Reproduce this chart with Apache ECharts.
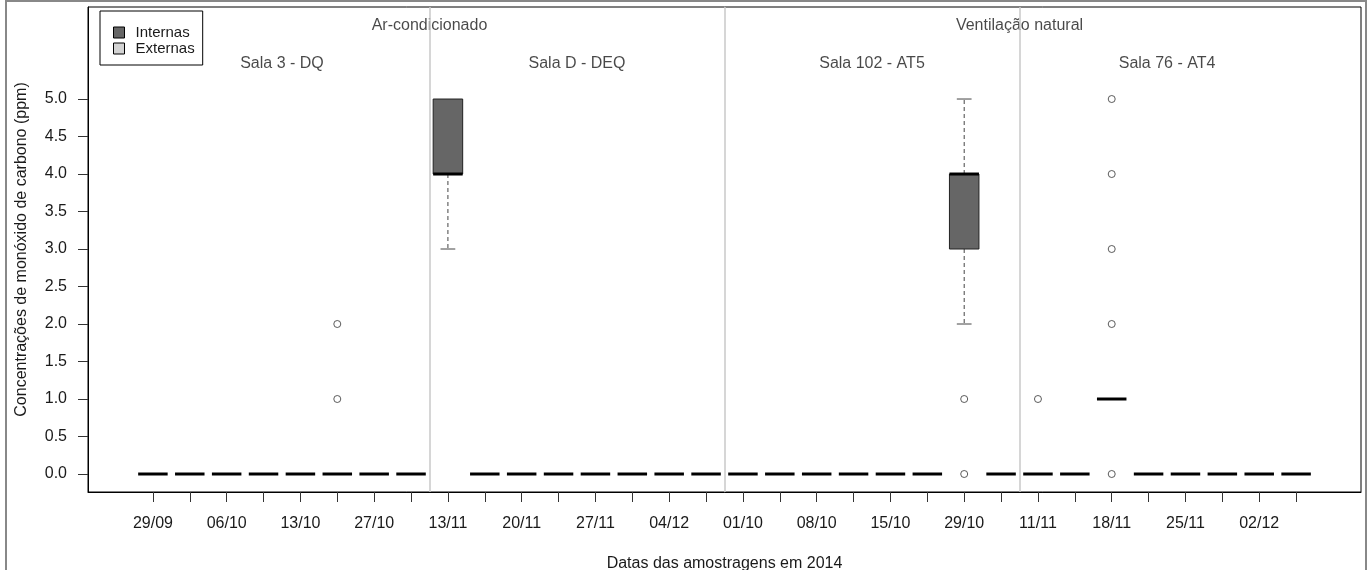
<!DOCTYPE html>
<html>
<head>
<meta charset="utf-8">
<style>
    html, body { margin: 0; padding: 0; background: #fff; }
    #box-chart { width: 1368px; height: 570px; }
</style>
<script src="https://cdn.jsdelivr.net/npm/echarts@6/dist/echarts.min.js"></script>
</head>
<body>
<div id="box-chart"></div>
<script>
    // datas de amostragem (uma caixa interna + uma externa por data)
    var dateLabels = ['29/09', '06/10', '13/10', '27/10', '13/11', '20/11', '27/11', '04/12',
                      '01/10', '08/10', '15/10', '29/10', '11/11', '18/11', '25/11', '02/12'];
    var roomNames = ['Sala 3 - DQ', 'Sala D - DEQ', 'Sala 102 - AT5', 'Sala 76 - AT4'];
    var systemNames = ['Ar-condicionado', 'Ventilação natural'];
    var yTickValues = [0, 0.5, 1, 1.5, 2, 2.5, 3, 3.5, 4, 4.5, 5];

    // [bigode inf, Q1, mediana, Q3, bigode sup]
    var internasStats = [
        [0, 0, 0, 0, 0], [0, 0, 0, 0, 0], [0, 0, 0, 0, 0], [0, 0, 0, 0, 0],
        [3, 4, 4, 5, 5], [0, 0, 0, 0, 0], [0, 0, 0, 0, 0], [0, 0, 0, 0, 0],
        [0, 0, 0, 0, 0], [0, 0, 0, 0, 0], [0, 0, 0, 0, 0], [2, 3, 4, 4, 5],
        [0, 0, 0, 0, 0], [1, 1, 1, 1, 1], [0, 0, 0, 0, 0], [0, 0, 0, 0, 0]
    ];
    var externasStats = [
        [0, 0, 0, 0, 0], [0, 0, 0, 0, 0], [0, 0, 0, 0, 0], [0, 0, 0, 0, 0],
        [0, 0, 0, 0, 0], [0, 0, 0, 0, 0], [0, 0, 0, 0, 0], [0, 0, 0, 0, 0],
        [0, 0, 0, 0, 0], [0, 0, 0, 0, 0], [0, 0, 0, 0, 0], [0, 0, 0, 0, 0],
        [0, 0, 0, 0, 0], [0, 0, 0, 0, 0], [0, 0, 0, 0, 0], [0, 0, 0, 0, 0]
    ];
    // outliers: [indice da data, valor]
    var internasOutliers = [[11, 1], [11, 0], [12, 1], [13, 0], [13, 2], [13, 3], [13, 4], [13, 5]];
    var externasOutliers = [[2, 1], [2, 2]];

    var fontName = "'Liberation Sans', Arial, sans-serif";
    var textColor = '#1a1a1a';

    // posicao no eixo x: internas em 2k+1, externas em 2k+2
    function boxData(stats, offset) {
        return stats.map(function (s, k) { return [2 * k + offset].concat(s); });
    }
    function outlierData(list, offset) {
        return list.map(function (o) { return [2 * o[0] + offset, o[1]]; });
    }

    function makeRender(fill) {
        return function (params, api) {
            var x = api.value(0);
            var lo = api.value(1), q1 = api.value(2), med = api.value(3), q3 = api.value(4), hi = api.value(5);
            var xl = api.coord([x - 0.4, 0])[0];
            var xr = api.coord([x + 0.4, 0])[0];
            var xc = api.coord([x, 0])[0];
            var capL = api.coord([x - 0.2, 0])[0];
            var capR = api.coord([x + 0.2, 0])[0];
            var y = function (v) { return api.coord([x, v])[1]; };
            var children = [];
            var whisker = { stroke: '#444', lineWidth: 1, lineDash: [4, 3] };
            var cap = { stroke: '#444', lineWidth: 1 };
            if (lo < q1) {
                children.push({ type: 'line', shape: { x1: xc, y1: y(q1), x2: xc, y2: y(lo) }, style: whisker });
                children.push({ type: 'line', shape: { x1: capL, y1: y(lo), x2: capR, y2: y(lo) }, style: cap });
            }
            if (hi > q3) {
                children.push({ type: 'line', shape: { x1: xc, y1: y(q3), x2: xc, y2: y(hi) }, style: whisker });
                children.push({ type: 'line', shape: { x1: capL, y1: y(hi), x2: capR, y2: y(hi) }, style: cap });
            }
            if (q3 > q1) {
                children.push({
                    type: 'rect',
                    shape: { x: xl, y: y(q3), width: xr - xl, height: y(q1) - y(q3) },
                    style: { fill: fill, stroke: '#222', lineWidth: 1 }
                });
            }
            children.push({
                type: 'line',
                shape: { x1: xl, y1: y(med), x2: xr, y2: y(med) },
                style: { stroke: '#000', lineWidth: 3, lineCap: 'butt' }
            });
            return { type: 'group', children: children };
        };
    }

    var xTicks = [];
    for (var i = 1; i <= dateLabels.length * 2; i++) xTicks.push(i);
    var xLabelTicks = xTicks.filter(function (v) { return v % 2 === 1; });

    // rotulos das salas e dos sistemas, no centro de cada grupo
    var notes = [];
    roomNames.forEach(function (n, g) { notes.push({ name: n, value: [8 * g + 4.5, 5.5] }); });
    systemNames.forEach(function (n, h) { notes.push({ name: n, value: [16 * h + 8.5, 6.0] }); });

    var myChart = echarts.init(document.getElementById('box-chart'));
    myChart.setOption({
        animation: false,
        textStyle: { fontFamily: fontName },
        graphic: [{
            type: 'rect',
            shape: { x: 6, y: 1, width: 1360, height: 600 },
            style: { fill: 'none', stroke: '#888', lineWidth: 2 },
            silent: true
        }],
        legend: {
            data: [
                { name: 'Internas', itemStyle: { color: '#666', borderColor: '#000', borderWidth: 1 } },
                { name: 'Externas', itemStyle: { color: '#d3d3d3', borderColor: '#000', borderWidth: 1 } }
            ],
            orient: 'vertical',
            left: 100,
            top: 11,
            icon: 'rect',
            itemWidth: 11,
            itemHeight: 11,
            itemGap: 1,
            padding: [14, 8, 9, 13],
            borderColor: '#000',
            borderWidth: 1,
            backgroundColor: '#fff',
            textStyle: { color: textColor, fontSize: 15, fontFamily: fontName, padding: [0, 0, 0, 6] }
        },
        grid: {
            left: 88,
            right: 7,
            top: 7,
            bottom: 78,
            outerBoundsMode: 'none',
            show: true,
            borderColor: '#000',
            borderWidth: 1
        },
        xAxis: {
            type: 'value',
            min: -0.76,
            max: 33.76,
            name: 'Datas das amostragens em 2014',
            nameLocation: 'middle',
            nameGap: 64,
            nameTextStyle: { color: textColor, fontSize: 16, fontFamily: fontName },
            axisLine: { show: true, onZero: false, lineStyle: { color: '#000' } },
            axisTick: { show: true, customValues: xTicks, length: 10, lineStyle: { color: '#333' } },
            axisLabel: {
                customValues: xLabelTicks,
                margin: 24,
                color: textColor,
                fontSize: 16,
                fontFamily: fontName,
                formatter: function (v) { return dateLabels[(v - 1) / 2]; }
            },
            splitLine: { show: false }
        },
        yAxis: {
            type: 'value',
            min: -0.24,
            max: 6.227,
            name: 'Concentrações de monóxido de carbono (ppm)',
            nameLocation: 'middle',
            nameGap: 58,
            nameTextStyle: { color: textColor, fontSize: 16, fontFamily: fontName },
            axisLine: { show: true, onZero: false, lineStyle: { color: '#000' } },
            axisTick: { show: true, customValues: yTickValues, length: 10, lineStyle: { color: '#333' } },
            axisLabel: {
                customValues: yTickValues,
                margin: 21,
                color: textColor,
                fontSize: 16,
                fontFamily: fontName,
                formatter: function (v) { return v.toFixed(1); }
            },
            splitLine: { show: false }
        },
        series: [
            {
                name: 'notas',
                type: 'scatter',
                data: notes,
                symbolSize: 1,
                itemStyle: { color: 'transparent' },
                silent: true,
                z: 1,
                label: {
                    show: true,
                    position: 'inside',
                    offset: [0, 2],
                    formatter: '{b}',
                    color: textColor,
                    fontSize: 16,
                    fontFamily: fontName
                },
                markLine: {
                    silent: true,
                    symbol: 'none',
                    label: { show: false },
                    lineStyle: { color: '#c8c8c8', type: 'solid', width: 1.5 },
                    data: [{ xAxis: 8.5 }, { xAxis: 16.5 }, { xAxis: 24.5 }]
                }
            },
            {
                name: 'Internas',
                type: 'custom',
                renderItem: makeRender('#666'),
                encode: { x: 0, y: [1, 2, 3, 4, 5] },
                itemStyle: { color: '#666' },
                data: boxData(internasStats, 1),
                z: 3
            },
            {
                name: 'Externas',
                type: 'custom',
                renderItem: makeRender('#d3d3d3'),
                encode: { x: 0, y: [1, 2, 3, 4, 5] },
                itemStyle: { color: '#d3d3d3' },
                data: boxData(externasStats, 2),
                z: 3
            },
            {
                name: 'outliers internas',
                type: 'scatter',
                symbol: 'circle',
                symbolSize: 7,
                itemStyle: { color: '#fff', borderColor: '#333', borderWidth: 1 },
                data: outlierData(internasOutliers, 1),
                z: 4
            },
            {
                name: 'outliers externas',
                type: 'scatter',
                symbol: 'circle',
                symbolSize: 7,
                itemStyle: { color: '#fff', borderColor: '#333', borderWidth: 1 },
                data: outlierData(externasOutliers, 2),
                z: 4
            }
        ]
    });
</script>
</body>
</html>
